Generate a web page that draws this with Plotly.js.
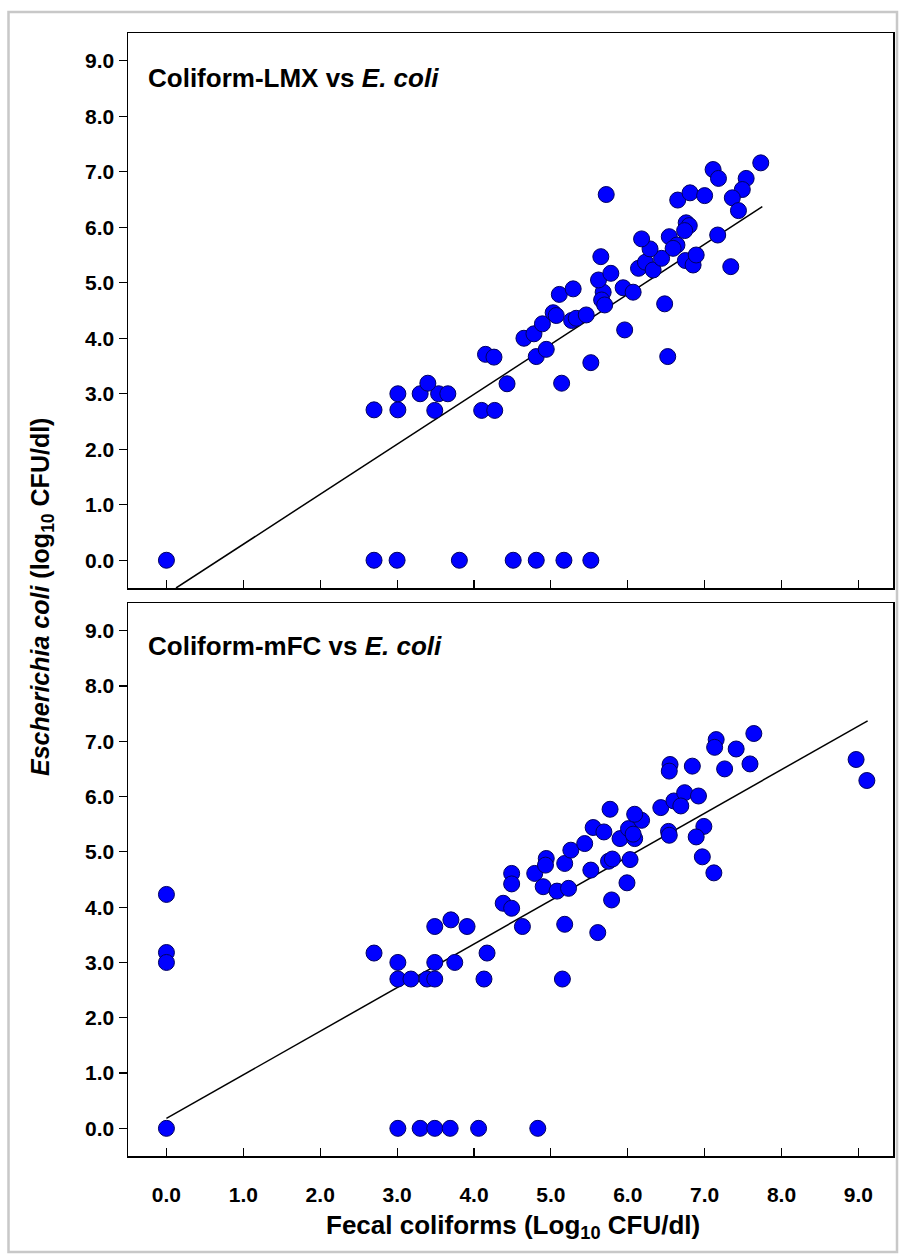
<!DOCTYPE html>
<html>
<head>
<meta charset="utf-8">
<script src="https://cdn.plot.ly/plotly-3.0.1.min.js"></script>
<style>html,body{margin:0;padding:0;background:#fff;}#chart{width:905px;height:1260px;}</style>
</head>
<body>
<div id="chart"></div>
<script>
// ---- Data: Coliform-LMX vs E. coli (top panel) ----
const lmxX = [0, 2.70, 3.00, 3.81, 4.51, 4.81, 5.17, 5.52,
  2.70, 3.01, 3.49, 4.10, 4.27,
  3.01, 3.30, 3.54, 3.66, 3.40,
  4.43, 5.14, 5.52, 6.52,
  4.15, 4.26, 4.81, 4.94,
  4.65, 4.78, 4.89, 5.03, 5.07, 5.27, 5.33, 5.46, 5.96,
  5.11, 5.29, 5.68, 5.66, 5.70, 5.62, 5.94, 6.07, 6.48,
  5.65, 5.78,
  6.14, 6.23, 6.33, 6.44, 6.29, 6.18, 6.54, 6.64, 6.59,
  6.75, 6.85, 6.89,
  6.76, 6.80, 6.74,
  5.72, 6.65, 6.81, 7.00,
  7.17, 7.34,
  7.11, 7.18, 7.54, 7.49, 7.36, 7.44, 7.73];
const lmxY = [0, 0, 0, 0, 0, 0, 0, 0,
  2.71, 2.71, 2.70, 2.70, 2.70,
  3.00, 3.00, 3.00, 3.00, 3.19,
  3.18, 3.19, 3.56, 3.67,
  3.71, 3.66, 3.67, 3.80,
  4.00, 4.08, 4.26, 4.46, 4.41, 4.32, 4.36, 4.42, 4.15,
  4.79, 4.89, 4.83, 4.69, 4.60, 5.05, 4.91, 4.83, 4.62,
  5.47, 5.17,
  5.26, 5.37, 5.23, 5.44, 5.61, 5.79, 5.83, 5.68, 5.62,
  5.40, 5.32, 5.50,
  6.08, 6.03, 5.94,
  6.59, 6.49, 6.62, 6.57,
  5.86, 5.29,
  7.04, 6.88, 6.88, 6.68, 6.53, 6.30, 7.16];
const lmxFitX = [0.125, 7.75];
const lmxFitY = [-0.5, 6.37];

// ---- Data: Coliform-mFC vs E. coli (bottom panel) ----
const mfcX = [0, 3.01, 3.30, 3.49, 3.69, 4.06, 4.83,
  0, 0, 0,
  2.70, 3.01, 3.01, 3.18, 3.39, 3.49, 3.49, 3.49, 3.70, 3.91, 3.75, 4.13, 4.17, 5.15,
  4.63, 5.18, 5.61, 4.38, 4.49, 4.49, 4.49, 4.79, 4.90, 5.08, 5.23, 4.94, 4.93, 5.18, 5.52, 5.75, 5.80, 5.79, 5.99, 6.03,
  5.26, 5.44, 5.55, 5.69, 5.90, 6.09, 6.01, 6.07, 6.18, 6.09, 5.77,
  6.43, 6.60, 6.74, 6.69, 6.92,
  6.53, 6.54, 6.99, 6.89, 6.97, 7.12,
  6.55, 6.54, 6.84, 7.26, 7.59, 7.41, 7.15, 7.13, 7.64,
  8.97, 9.11];
const mfcY = [0, 0, 0, 0, 0, 0, 0,
  4.23, 3.18, 3.00,
  3.17, 3.00, 2.70, 2.70, 2.70, 2.70, 3.00, 3.65, 3.77, 3.65, 3.00, 2.70, 3.17, 2.70,
  3.65, 3.69, 3.54, 4.07, 3.98, 4.61, 4.42, 4.61, 4.37, 4.29, 4.34, 4.88, 4.76, 4.79, 4.67, 4.83, 4.87, 4.13, 4.44, 4.86,
  5.03, 5.15, 5.44, 5.36, 5.24, 5.24, 5.42, 5.32, 5.57, 5.68, 5.77,
  5.80, 5.92, 6.07, 5.83, 6.01,
  5.37, 5.30, 5.46, 5.27, 4.91, 4.62,
  6.58, 6.46, 6.55, 6.50, 6.59, 6.86, 7.03, 6.89, 7.14,
  6.67, 6.29];
const mfcFitX = [0, 9.12];
const mfcFitY = [0.18, 7.37];

// ---- Axis / label text ----
const tickVals = [0, 1, 2, 3, 4, 5, 6, 7, 8, 9];
const tickText = ["0.0", "1.0", "2.0", "3.0", "4.0", "5.0", "6.0", "7.0", "8.0", "9.0"];
const titleTop = "<b>Coliform-LMX vs <i>E. coli</i></b>";
const titleBottom = "<b>Coliform-mFC vs <i>E. coli</i></b>";
const xTitle = "<b>Fecal coliforms (Log<sub>10</sub> CFU/dl)</b>";
const yTitle = "<b><i>Escherichia coli</i> (log<sub>10</sub> CFU/dl)</b>";

// ---- Layout geometry (pixels) ----
const W = 905, H = 1260;
const mL = 128, mR = 12, mT = 33, mB = 104;
const plotW = W - mL - mR, plotH = H - mT - mB;
const px2x = p => (p - mL) / plotW;
const py2y = p => (H - mB - p) / plotH;

const FONT = "Liberation Sans, Arial, Helvetica, sans-serif";
const marker = {color: "#0000ff", size: 16, line: {color: "#000060", width: 1}};
const fitLine = {color: "#000000", width: 1.5};

const traces = [
  {x: lmxFitX, y: lmxFitY, xaxis: "x2", yaxis: "y2", mode: "lines", line: fitLine, hoverinfo: "skip"},
  {x: lmxX, y: lmxY, xaxis: "x2", yaxis: "y2", mode: "markers", marker: marker},
  {x: mfcFitX, y: mfcFitY, xaxis: "x", yaxis: "y", mode: "lines", line: fitLine, hoverinfo: "skip"},
  {x: mfcX, y: mfcY, xaxis: "x", yaxis: "y", mode: "markers", marker: marker}
];

const tickFont = {family: FONT, size: 21, color: "#000", weight: "bold"};
const xRange = [-0.5, 9.45];
const xBase = {
  range: xRange, tickmode: "array", tickvals: tickVals, ticktext: tickText,
  ticks: "inside", ticklen: 8, tickwidth: 1.2, tickcolor: "#000",
  showline: true, linecolor: "#000", linewidth: 1.5, mirror: true,
  showgrid: false, zeroline: false, tickfont: tickFont, showticklabels: false
};
const yBase = {
  range: [-0.5, 9.5], tickmode: "array", tickvals: tickVals, ticktext: tickText,
  ticks: "outside", ticklen: 8, tickwidth: 1.2, tickcolor: "#000",
  showline: true, linecolor: "#000", linewidth: 1.5, mirror: true,
  showgrid: false, zeroline: false, tickfont: tickFont
};

const layout = {
  width: W, height: H,
  margin: {l: mL, r: mR, t: mT, b: mB},
  paper_bgcolor: "#ffffff", plot_bgcolor: "#ffffff",
  showlegend: false,
  font: {family: FONT, color: "#000"},
  xaxis: Object.assign({}, xBase, {anchor: "y", domain: [0, 1]}),
  // label-only axis for the bottom tick labels (set further below the frame)
  xaxis3: {range: xRange, overlaying: "x", anchor: "y", side: "bottom", domain: [0, 1],
           tickmode: "array", tickvals: tickVals, ticktext: tickText,
           ticks: "outside", ticklen: 20, tickcolor: "rgba(0,0,0,0)",
           showline: false, showgrid: false, zeroline: false, tickfont: tickFont},
  yaxis: Object.assign({}, yBase, {anchor: "x", domain: [0, py2y(603)]}),
  xaxis2: Object.assign({}, xBase, {anchor: "y2", domain: [0, 1]}),
  yaxis2: Object.assign({}, yBase, {anchor: "x2", domain: [py2y(588), 1]}),
  annotations: [
    {text: titleTop, xref: "paper", yref: "paper", x: px2x(146), y: py2y(78),
     xanchor: "left", yanchor: "middle", showarrow: false, font: {family: FONT, size: 26, color: "#000"}},
    {text: titleBottom, xref: "paper", yref: "paper", x: px2x(146), y: py2y(646),
     xanchor: "left", yanchor: "middle", showarrow: false, font: {family: FONT, size: 26, color: "#000"}},
    {text: xTitle, xref: "paper", yref: "paper", x: px2x(513), y: py2y(1226),
     xanchor: "center", yanchor: "middle", showarrow: false, font: {family: FONT, size: 26, color: "#000"}},
    {text: yTitle, xref: "paper", yref: "paper", x: px2x(42), y: py2y(597),
     xanchor: "center", yanchor: "middle", textangle: -90, showarrow: false, font: {family: FONT, size: 25, color: "#000"}}
  ],
  shapes: [
    {type: "rect", xref: "paper", yref: "paper", x0: px2x(8.5), x1: px2x(897), y0: py2y(1252), y1: py2y(12),
     line: {color: "#c8c8c8", width: 2.5}, fillcolor: "rgba(0,0,0,0)", layer: "below"}
  ]
};

// dummy invisible trace so the label-only axis is drawn
traces.push({x: [null], y: [null], xaxis: "x3", yaxis: "y", mode: "markers", hoverinfo: "skip", showlegend: false});

Plotly.newPlot("chart", traces, layout, {displayModeBar: false, staticPlot: true});
</script>
</body>
</html>
